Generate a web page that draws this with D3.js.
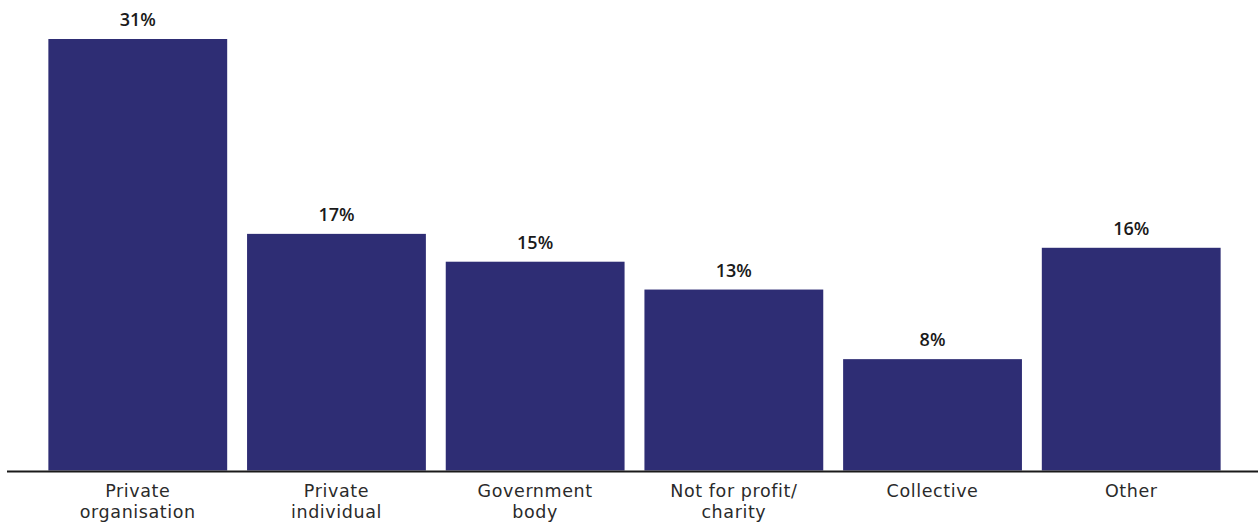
<!DOCTYPE html>
<html>
<head>
<meta charset="utf-8">
<script src="https://cdn.jsdelivr.net/npm/d3@7"></script>
<style>
  html, body { margin: 0; padding: 0; background: #fff; }
  svg { display: block; font-family: "Open Sans", "Noto Sans", sans-serif; }
  .cat { font-family: "DejaVu Sans", "Open Sans", sans-serif; }
</style>
</head>
<body>
<svg id="chart" width="1258" height="522"></svg>
<script>
// Share of respondents by organisation type
const categories = [
  ["Private", "organisation"],
  ["Private", "individual"],
  ["Government", "body"],
  ["Not for profit/", "charity"],
  ["Collective"],
  ["Other"]
];
const values = [31, 17, 15, 13, 8, 16];

const width = 1258, height = 522;
const baseline = 470.5;

const svg = d3.select("#chart");

const x = d3.scaleBand()
  .domain(d3.range(categories.length))
  .range([28.5, 1240.5])
  .paddingInner(0.1)
  .paddingOuter(0.1);

const y = d3.scaleLinear()
  .domain([0, 31])
  .range([baseline, 39]);

// bars
svg.append("g")
  .selectAll("rect")
  .data(values)
  .join("rect")
  .attr("x", (d, i) => x(i))
  .attr("y", d => y(d))
  .attr("width", x.bandwidth())
  .attr("height", d => baseline - y(d))
  .attr("fill", "#2e2d74");

// value labels
svg.append("g")
  .selectAll("text")
  .data(values)
  .join("text")
  .attr("x", (d, i) => x(i) + x.bandwidth() / 2)
  .attr("y", d => y(d) - 13)
  .attr("text-anchor", "middle")
  .attr("font-size", 18)
  .attr("font-weight", 600)
  .attr("fill", "#1a1a1a")
  .text(d => d + "%");

// baseline axis
const axis = d3.axisBottom(x).tickSize(0).tickFormat(() => "");
const axisG = svg.append("g")
  .attr("transform", `translate(0,${baseline + 1})`)
  .call(axis);
axisG.select(".domain").remove();
axisG.append("line")
  .attr("x1", 7).attr("x2", width)
  .attr("y1", 0).attr("y2", 0)
  .attr("stroke", "#1a1a1a")
  .attr("stroke-width", 2);

// category labels (wrapped)
axisG.selectAll(".tick").each(function (i) {
  const t = d3.select(this).append("text")
    .attr("class", "cat")
    .attr("text-anchor", "middle")
    .attr("font-size", 17.5)
    .attr("letter-spacing", 0.6)
    .attr("fill", "#2a2a2a");
  categories[i].forEach((line, k) => {
    t.append("tspan")
      .attr("x", 0)
      .attr("y", 25 + k * 21)
      .text(line);
  });
});
</script>
</body>
</html>
